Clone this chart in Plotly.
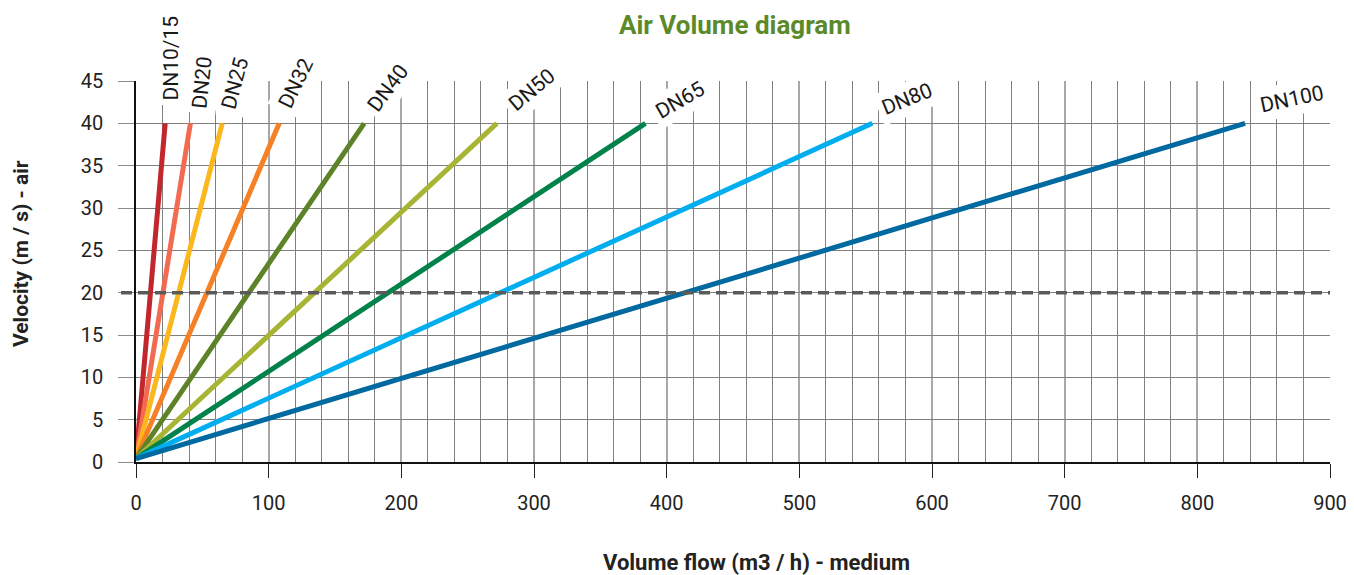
import plotly.graph_objects as go

names = ["DN10/15", "DN20", "DN25", "DN32", "DN40", "DN50", "DN65", "DN80", "DN100"]
flow_at_40 = [22, 41, 65, 108, 172, 272, 384, 555, 836]
start_velocity = 0.4
end_velocity = 40
colors = ["#c1272d", "#f26b50", "#fbb81e", "#f58025", "#5e8228", "#a8b534", "#00824a", "#00aeef", "#0069a0"]
label_dx = [6, 12, 13, 17, 24, 35, 35, 35, 47]
label_dy = [65, 41, 40, 40, 35, 33, 23, 24, 24]
label_angle = [-90, -84, -75, -64, -53, -40, -30, -22, -12]

x_ticks = [0, 100, 200, 300, 400, 500, 600, 700, 800, 900]
y_ticks = [0, 5, 10, 15, 20, 25, 30, 35, 40, 45]
ref_velocity = 20

font = "Roboto"
# page body has an 8px margin: figure is sized/offset to land the plot at the same pixels
W, H = 1346, 567
L, R, T, B = 128, 24, 73, 113
PW, PH = W - L - R, H - T - B

fig = go.Figure()
for n, q, c in zip(names, flow_at_40, colors):
    fig.add_trace(go.Scatter(x=[0, q], y=[start_velocity, end_velocity], mode="lines",
                             line=dict(color=c, width=5), name=n, showlegend=False,
                             hoverinfo="skip"))

fig.add_shape(type="line", xref="paper", yref="y", x0=-15 / PW, x1=1, y0=ref_velocity, y1=ref_velocity,
              line=dict(color="#5a5a5a", width=3.5, dash="11px,6px"), layer="above")

for n, q, dx, dy, a in zip(names, flow_at_40, label_dx, label_dy, label_angle):
    fig.add_annotation(x=q, y=end_velocity, text=n, showarrow=False, textangle=a, bgcolor="white",
                       xshift=dx, yshift=dy, xanchor="center", yanchor="middle",
                       font=dict(family=font, size=21, color="#1a1a1a"), borderpad=4)

fig.add_annotation(xref="paper", yref="paper", x=(735 - 136) / PW, y=1.0 + T / PH, text="<b>Air Volume diagram</b>",
                   showarrow=False, font=dict(family=font, size=26, color="#5b8a2a"), yanchor="top")
fig.add_annotation(xref="paper", yref="paper", x=(756 - 136) / PW, y=-100 / PH, text="<b>Volume flow (m3 / h) - medium</b>",
                   showarrow=False, font=dict(family=font, size=22, color="#222"), yanchor="middle")
fig.add_annotation(xref="paper", yref="paper", x=(21 - 136) / PW, y=(462 - 254) / PH, text="<b>Velocity (m / s) - air</b>",
                   showarrow=False, textangle=-90, font=dict(family=font, size=21, color="#222"),
                   xanchor="center", yanchor="middle")

fig.update_xaxes(range=[0, 900], tickvals=x_ticks, ticks="outside", ticklen=14, tickcolor="#222",
                 showline=True, linecolor="#111", linewidth=1.5, showgrid=True, gridcolor="#a8a8a8",
                 gridwidth=1.5, minor=dict(dtick=20, showgrid=True, gridcolor="#808080", gridwidth=1),
                 tickfont=dict(family=font, size=20, color="#222"), zeroline=False, automargin=False,
                 ticklabelstandoff=8)
fig.update_yaxes(range=[0, 45], tickvals=y_ticks, ticks="outside", ticklen=16, tickcolor="#8a8a8a",
                 showline=True, linecolor="#111", linewidth=1.5, showgrid=True, gridcolor="#808080",
                 tickfont=dict(family=font, size=20, color="#222"), zeroline=False, automargin=False,
                 ticklabelstandoff=11)

fig.update_layout(width=W, height=H, margin=dict(l=L, r=R, t=T, b=B, autoexpand=False),
                  plot_bgcolor="white", paper_bgcolor="white", showlegend=False)
fig.write_html("out.html")
